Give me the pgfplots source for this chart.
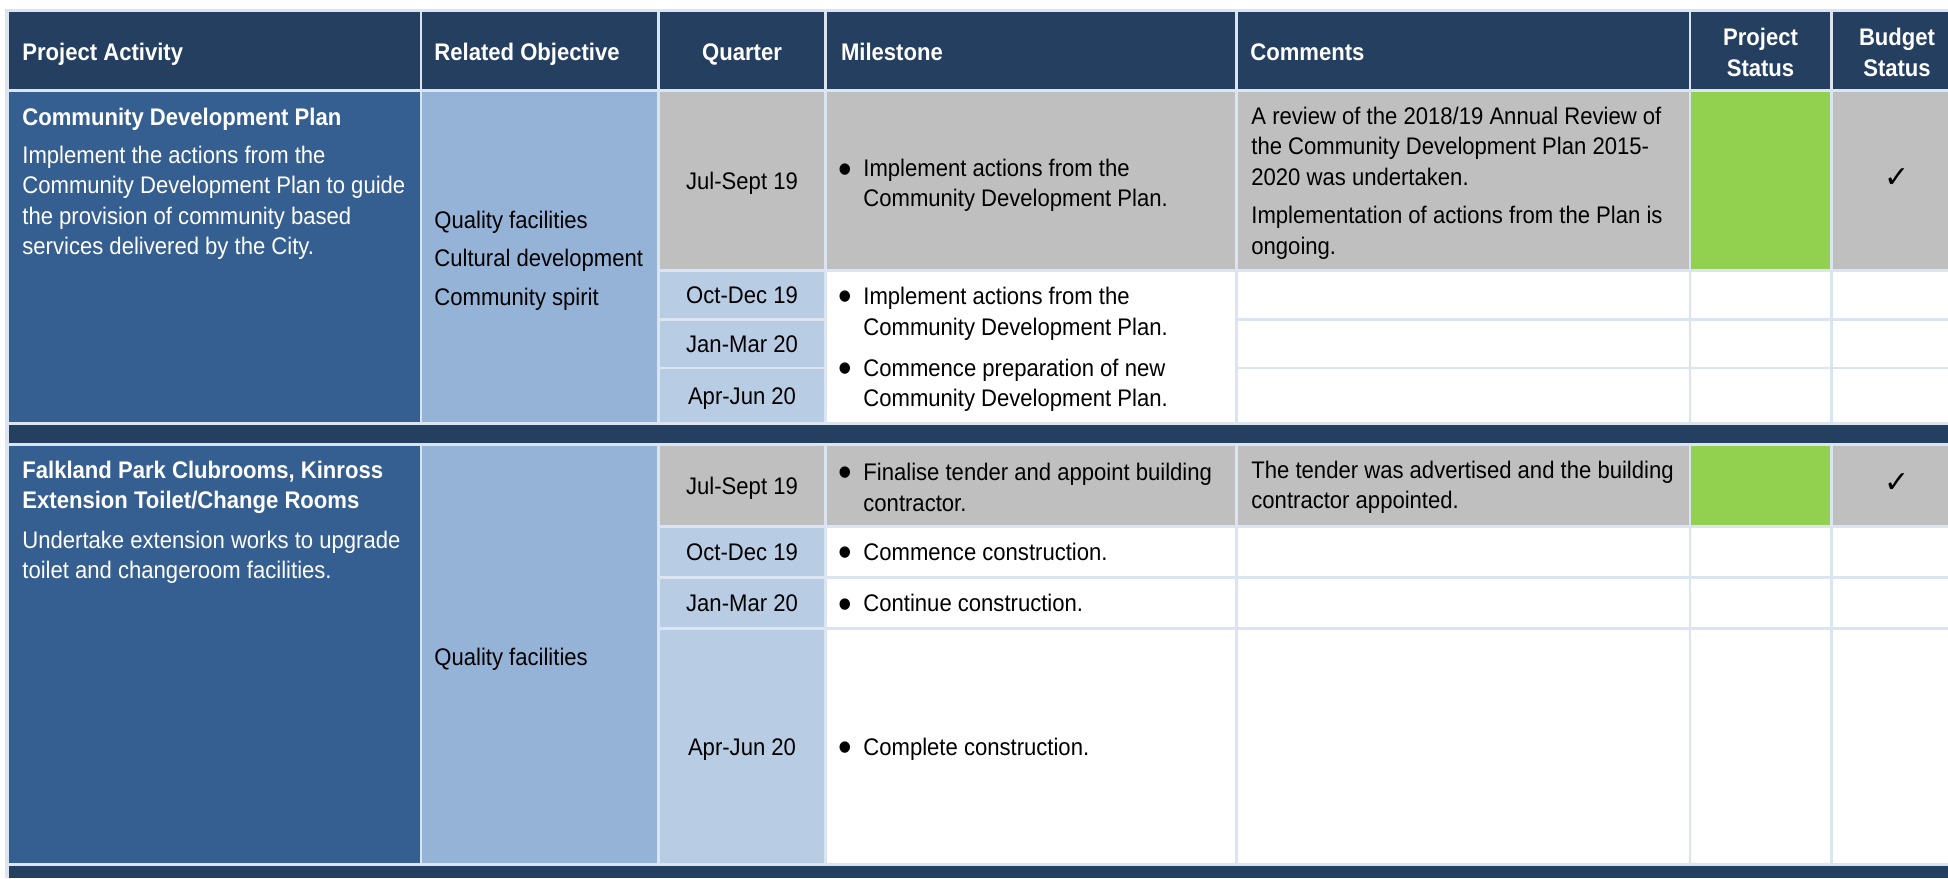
\documentclass[border=0pt]{standalone}
\usepackage{fontspec}
\setmainfont{Liberation Sans}[FakeStretch=0.92]
\newfontfamily\djv{DejaVu Sans}
\usepackage{pgfplots}
\pgfplotsset{compat=1.18}
\definecolor{hdr}{HTML}{243F60}
\definecolor{act}{HTML}{365F91}
\definecolor{obj}{HTML}{95B3D7}
\definecolor{qtr}{HTML}{B8CCE4}
\definecolor{gry}{HTML}{BFBFBF}
\definecolor{grn}{HTML}{92D050}
\definecolor{grd}{HTML}{DBE5F1}
\newcommand\cell[5]{\fill[#5] (axis cs:#1,#2) rectangle (axis cs:#3,#4);}
\newcommand\T[4][]{\node[anchor=base west,inner sep=0pt,#1] at (axis cs:#2,#3) {#4};}
\newcommand\C[4][]{\node[anchor=base,inner sep=0pt,#1] at (axis cs:#2,#3) {#4};}
\newcommand\B[2]{\node[anchor=base,inner sep=0pt,font=\fontsize{21}{21}\selectfont] at (axis cs:845.5,#1+6.5) {•};\T{863}{#1}{#2}}
\begin{document}
\begin{tikzpicture}[every node/.style={font=\fontsize{12}{15}\selectfont},
  hb/.style={text=white,font=\fontsize{12}{15}\selectfont\bfseries},
  wt/.style={text=white}]
\begin{axis}[scale only axis, width=974pt, height=439pt,
  xmin=0, xmax=1948, ymin=0, ymax=878, y dir=reverse, hide axis, clip=true]
% background
\cell{0}{0}{1948}{878}{white}
\cell{5.4}{9.3}{1948}{878}{grd}
% header
\cell{9}{11.7}{419.5}{89.3}{hdr}
\cell{422}{11.7}{657}{89.3}{hdr}
\cell{660}{11.7}{824}{89.3}{hdr}
\cell{826.8}{11.7}{1235}{89.3}{hdr}
\cell{1237.7}{11.7}{1688.7}{89.3}{hdr}
\cell{1691.3}{11.7}{1829.7}{89.3}{hdr}
\cell{1832.5}{11.7}{1948}{89.3}{hdr}
% row 1
\cell{9}{92}{419.5}{422}{act}
\cell{422}{92}{657}{422}{obj}
\cell{660}{92}{824}{268.7}{gry}
\cell{660}{271.7}{824}{317.7}{qtr}
\cell{660}{320.7}{824}{366.7}{qtr}
\cell{660}{369.3}{824}{422}{qtr}
\cell{826.8}{92}{1235}{268.7}{gry}
\cell{826.8}{271.7}{1235}{422}{white}
\cell{1237.7}{92}{1688.7}{268.7}{gry}
\cell{1237.7}{271.7}{1688.7}{317.7}{white}
\cell{1237.7}{320.7}{1688.7}{366.7}{white}
\cell{1237.7}{369.3}{1688.7}{422}{white}
\cell{1691.3}{92}{1829.7}{268.7}{grn}
\cell{1691.3}{271.7}{1829.7}{317.7}{white}
\cell{1691.3}{320.7}{1829.7}{366.7}{white}
\cell{1691.3}{369.3}{1829.7}{422}{white}
\cell{1832.5}{92}{1948}{268.7}{gry}
\cell{1832.5}{271.7}{1948}{317.7}{white}
\cell{1832.5}{320.7}{1948}{366.7}{white}
\cell{1832.5}{369.3}{1948}{422}{white}
% separator
\cell{9}{424.7}{1948}{442.7}{hdr}
% row 2
\cell{9}{446}{419.5}{862.7}{act}
\cell{422}{446}{657}{862.7}{obj}
\cell{660}{446}{824}{525}{gry}
\cell{660}{527.7}{824}{575.7}{qtr}
\cell{660}{579}{824}{626.7}{qtr}
\cell{660}{630}{824}{862.7}{qtr}
\cell{826.8}{446}{1235}{525}{gry}
\cell{826.8}{527.7}{1235}{575.7}{white}
\cell{826.8}{579}{1235}{626.7}{white}
\cell{826.8}{630}{1235}{862.7}{white}
\cell{1237.7}{446}{1688.7}{525}{gry}
\cell{1237.7}{527.7}{1688.7}{575.7}{white}
\cell{1237.7}{579}{1688.7}{626.7}{white}
\cell{1237.7}{630}{1688.7}{862.7}{white}
\cell{1691.3}{446}{1829.7}{525}{grn}
\cell{1691.3}{527.7}{1829.7}{575.7}{white}
\cell{1691.3}{579}{1829.7}{626.7}{white}
\cell{1691.3}{630}{1829.7}{862.7}{white}
\cell{1832.5}{446}{1948}{525}{gry}
\cell{1832.5}{527.7}{1948}{575.7}{white}
\cell{1832.5}{579}{1948}{626.7}{white}
\cell{1832.5}{630}{1948}{862.7}{white}
% bottom band
\cell{9}{865.7}{1948}{878}{hdr}
% header text
\T[hb]{22}{60}{Project Activity}
\T[hb]{434}{60}{Related Objective}
\C[hb]{742}{60}{Quarter}
\T[hb]{840.6}{60}{Milestone}
\T[hb]{1250}{60}{Comments}
\C[hb]{1760.5}{45}{Project}
\C[hb]{1760.5}{76}{Status}
\C[hb]{1897}{45}{Budget}
\C[hb]{1897}{76}{Status}
% row 1 text
\T[hb]{22}{125}{Community Development Plan}
\T[wt]{22}{163}{Implement the actions from the}
\T[wt]{22}{193.5}{Community Development Plan to guide}
\T[wt]{22}{224}{the provision of community based}
\T[wt]{22}{254.5}{services delivered by the City.}
\T{434}{228}{Quality facilities}
\T{434}{266.5}{Cultural development}
\T{434}{305}{Community spirit}
\C{742}{189}{Jul-Sept 19}
\C{742}{303.3}{Oct-Dec 19}
\C{742}{352.3}{Jan-Mar 20}
\C{742}{404.3}{Apr-Jun 20}
\B{176.7}{Implement actions from the}
\T{863}{206.7}{Community Development Plan.}
\B{304.3}{Implement actions from the}
\T{863}{335.5}{Community Development Plan.}
\B{376}{Commence preparation of new}
\T{863}{406}{Community Development Plan.}
\T{1251}{124}{A review of the 2018/19 Annual Review of}
\T{1251}{154.5}{the Community Development Plan 2015-}
\T{1251}{185}{2020 was undertaken.}
\T{1251}{223.5}{Implementation of actions from the Plan is}
\T{1251}{254}{ongoing.}
\C[font=\fontsize{15}{15}\djv]{1897}{187}{✓}
% row 2 text
\T[hb]{22}{478.3}{Falkland Park Clubrooms, Kinross}
\T[hb]{22}{508.3}{Extension Toilet/Change Rooms}
\T[wt]{22}{548.3}{Undertake extension works to upgrade}
\T[wt]{22}{578.3}{toilet and changeroom facilities.}
\T{434}{665}{Quality facilities}
\C{742}{494}{Jul-Sept 19}
\C{742}{560.3}{Oct-Dec 19}
\C{742}{611.5}{Jan-Mar 20}
\C{742}{755}{Apr-Jun 20}
\B{480}{Finalise tender and appoint building}
\T{863}{511}{contractor.}
\B{560.3}{Commence construction.}
\B{611.5}{Continue construction.}
\B{755}{Complete construction.}
\T{1251}{478.3}{The tender was advertised and the building}
\T{1251}{508.3}{contractor appointed.}
\C[font=\fontsize{15}{15}\djv]{1897}{492}{✓}
\end{axis}
\end{tikzpicture}
\end{document}
